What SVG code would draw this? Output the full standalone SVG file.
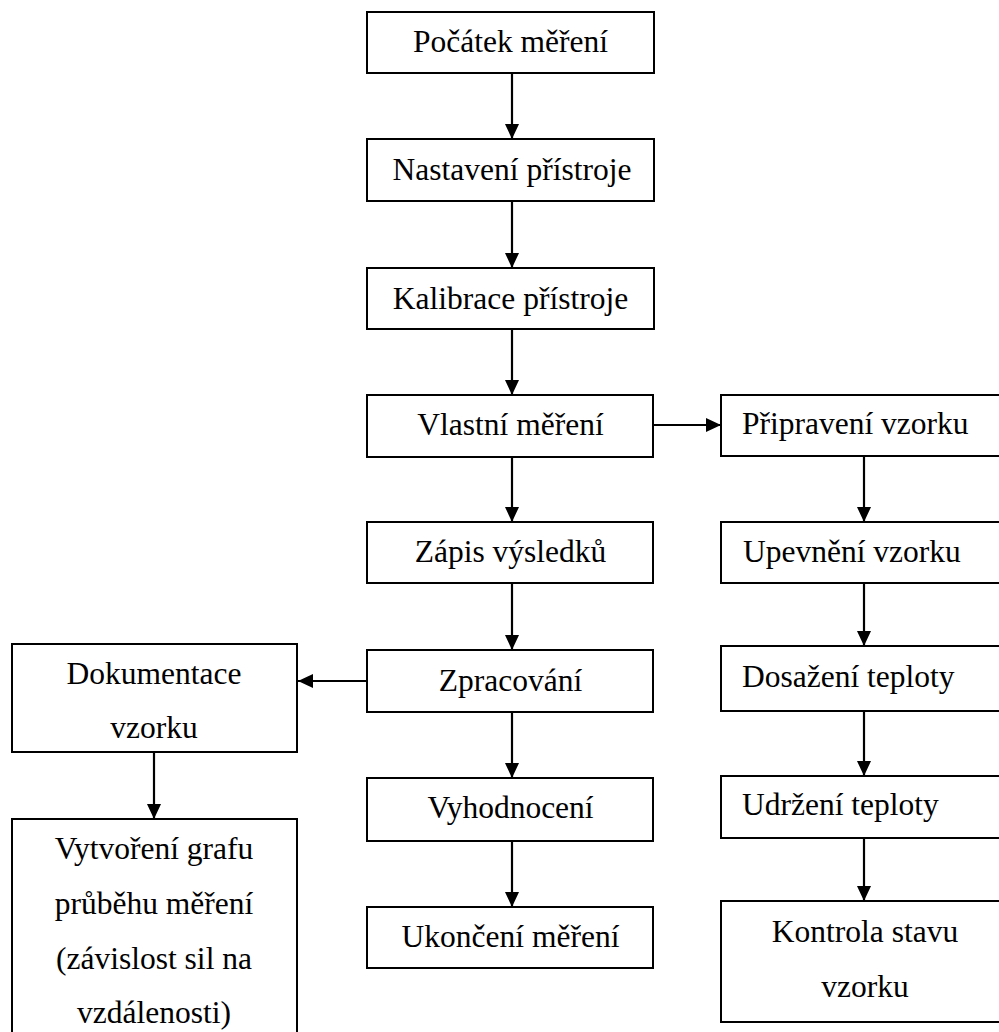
<svg xmlns="http://www.w3.org/2000/svg" width="999" height="1032" viewBox="0 0 999 1032">
  <defs>
    <style>
      .box { fill: #ffffff; stroke: #000000; stroke-width: 2; }
      .lbl { font-family: "Liberation Serif", "Times New Roman", serif; font-size: 31.5px; fill: #000000; }
      .mid { text-anchor: middle; }
      .conn { stroke: #000000; stroke-width: 2.2; fill: none; marker-end: url(#arrow); }
    </style>
    <marker id="arrow" markerUnits="userSpaceOnUse" markerWidth="15" markerHeight="14" refX="15" refY="7" orient="auto">
      <path d="M0,0 L15,7 L0,14 Z" fill="#000000"/>
    </marker>
  </defs>
  <rect width="999" height="1032" fill="#ffffff"/>

  <g id="connectors">
    <line class="conn" x1="512" y1="73" x2="512" y2="139"/>
    <line class="conn" x1="512" y1="201" x2="512" y2="268"/>
    <line class="conn" x1="512" y1="329" x2="512" y2="395"/>
    <line class="conn" x1="512" y1="457" x2="512" y2="522"/>
    <line class="conn" x1="512" y1="583" x2="512" y2="650"/>
    <line class="conn" x1="512" y1="712" x2="512" y2="778"/>
    <line class="conn" x1="512" y1="841" x2="512" y2="907"/>
    <line class="conn" x1="653" y1="425" x2="721" y2="425"/>
    <line class="conn" x1="864" y1="456" x2="864" y2="522"/>
    <line class="conn" x1="864" y1="583" x2="864" y2="646"/>
    <line class="conn" x1="864" y1="711" x2="864" y2="776"/>
    <line class="conn" x1="864" y1="838" x2="864" y2="901"/>
    <line class="conn" x1="367" y1="681" x2="298" y2="681"/>
    <line class="conn" x1="154" y1="752" x2="154" y2="819"/>
  </g>

  <g id="n-pocatek">
    <rect class="box" x="367" y="12" width="287" height="61"/>
    <text class="lbl mid" x="510.5" y="52">Počátek měření</text>
  </g>
  <g id="n-nastaveni">
    <rect class="box" x="367" y="139" width="287" height="62"/>
    <text class="lbl mid" x="512" y="180">Nastavení přístroje</text>
  </g>
  <g id="n-kalibrace">
    <rect class="box" x="367" y="268" width="287" height="61"/>
    <text class="lbl mid" x="510.5" y="309">Kalibrace přístroje</text>
  </g>
  <g id="n-vlastni">
    <rect class="box" x="367" y="395" width="286" height="62"/>
    <text class="lbl mid" x="510.5" y="435">Vlastní měření</text>
  </g>
  <g id="n-zapis">
    <rect class="box" x="367" y="522" width="286" height="61"/>
    <text class="lbl mid" x="510.5" y="562">Zápis výsledků</text>
  </g>
  <g id="n-zpracovani">
    <rect class="box" x="367" y="650" width="286" height="62"/>
    <text class="lbl mid" x="510.5" y="691">Zpracování</text>
  </g>
  <g id="n-vyhodnoceni">
    <rect class="box" x="367" y="778" width="286" height="63"/>
    <text class="lbl mid" x="510.5" y="818">Vyhodnocení</text>
  </g>
  <g id="n-ukonceni">
    <rect class="box" x="367" y="907" width="286" height="61"/>
    <text class="lbl mid" x="510.5" y="947">Ukončení měření</text>
  </g>

  <g id="n-pripraveni">
    <rect class="box" x="721" y="395" width="290" height="61"/>
    <text class="lbl" x="742" y="434">Připravení vzorku</text>
  </g>
  <g id="n-upevneni">
    <rect class="box" x="721" y="522" width="290" height="61"/>
    <text class="lbl" x="743" y="562">Upevnění vzorku</text>
  </g>
  <g id="n-dosazeni">
    <rect class="box" x="721" y="646" width="290" height="65"/>
    <text class="lbl" x="742" y="687">Dosažení teploty</text>
  </g>
  <g id="n-udrzeni">
    <rect class="box" x="721" y="776" width="290" height="62"/>
    <text class="lbl" x="742" y="815">Udržení teploty</text>
  </g>
  <g id="n-kontrola">
    <rect class="box" x="721" y="901" width="290" height="121"/>
    <text class="lbl mid" x="865" y="942">Kontrola stavu</text>
    <text class="lbl mid" x="865" y="997">vzorku</text>
  </g>

  <g id="n-dokumentace">
    <rect class="box" x="12" y="644" width="285" height="108"/>
    <text class="lbl mid" x="154" y="684">Dokumentace</text>
    <text class="lbl mid" x="154" y="738">vzorku</text>
  </g>
  <g id="n-graf">
    <rect class="box" x="12" y="819" width="285" height="225"/>
    <text class="lbl mid" x="154" y="859">Vytvoření grafu</text>
    <text class="lbl mid" x="154" y="914">průběhu měření</text>
    <text class="lbl mid" x="154" y="969">(závislost sil na</text>
    <text class="lbl mid" x="154" y="1023">vzdálenosti)</text>
  </g>
</svg>
